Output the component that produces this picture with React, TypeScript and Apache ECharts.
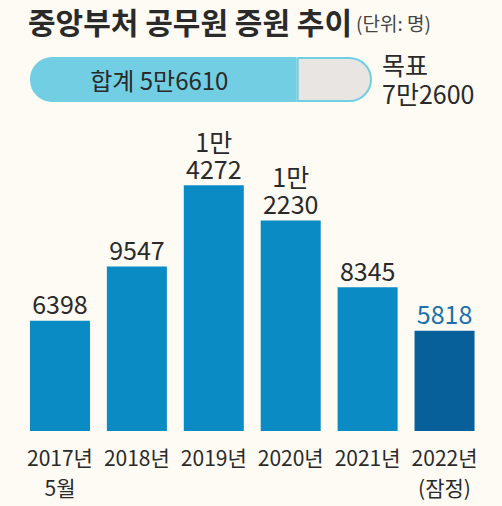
import React, { useEffect, useRef } from "react";
import * as echarts from "echarts";

const categories = ["2017년\n5월", "2018년", "2019년", "2020년", "2021년", "2022년\n(잠정)"];
const values = [6398, 9547, 14272, 12230, 8345, 5818];
const totalLabel = "합계";
const totalValue = 56610;
const targetLabel = "목표";
const targetValue = 72600;
const titleText = "중앙부처 공무원 증원 추이";
const unitText = "(단위: 명)";

const FONT = "'Noto Sans CJK KR', 'Noto Sans', sans-serif";
const BAR = "#0a8bc3";
const BAR_LAST = "#08609a";
const FILL = "#72cee2";
const REST = "#e8e5e2";
const TEXT = "#2a2a2a";

function fmt(v: number, sep: string): string {
  if (v < 10000) return String(v);
  return Math.floor(v / 10000) + "만" + sep + String(v % 10000);
}

export default function App() {
  const ref = useRef<HTMLDivElement>(null);
  useEffect(() => {
    if (!ref.current) return;
    const chart = echarts.init(ref.current, undefined, { renderer: "svg" });
    chart.setOption({
      animation: false,
      backgroundColor: "#fefbf5",
      textStyle: { fontFamily: FONT },
      title: {
        left: 23,
        top: 1,
        text: `{a|${titleText}} {b|${unitText}}`,
        textStyle: {
          rich: {
            a: { fontSize: 30, fontWeight: "bold", color: TEXT, fontFamily: FONT },
            b: { fontSize: 19, fontWeight: "normal", color: "#444", fontFamily: FONT, padding: [4, 0, 0, 0] },
          },
        },
      },
      grid: [
        { left: 21.5, right: 19, top: 155.5, bottom: 75 },
        { left: 30, right: 130, top: 57, height: 45 },
      ],
      xAxis: [
        {
          gridIndex: 0,
          type: "category",
          data: categories,
          axisLine: { show: false },
          axisTick: { show: false },
          axisLabel: {
            margin: 11,
            fontSize: 21,
            lineHeight: 30,
            color: TEXT,
            fontFamily: FONT,
            interval: 0,
          },
        },
        { gridIndex: 1, type: "value", min: 0, max: targetValue, show: false },
      ],
      yAxis: [
        { gridIndex: 0, type: "value", min: 0, max: 16000, show: false },
        { gridIndex: 1, type: "category", data: [""], show: false },
      ],
      series: [
        {
          type: "bar",
          xAxisIndex: 0,
          yAxisIndex: 0,
          barWidth: 60,
          data: values.map((v, i) => ({
            value: v,
            itemStyle: { color: i === values.length - 1 ? BAR_LAST : BAR },
            label: i === values.length - 1 ? { color: "#1a72ad" } : undefined,
          })),
          label: {
            show: true,
            position: "top",
            distance: 4,
            fontSize: 25,
            lineHeight: 27,
            color: TEXT,
            fontFamily: FONT,
            formatter: (p: any) => fmt(p.value, "\n"),
          },
        },
        {
          type: "bar",
          xAxisIndex: 1,
          yAxisIndex: 1,
          stack: "p",
          barWidth: 45,
          data: [totalValue],
          itemStyle: { color: FILL, borderRadius: [22, 0, 0, 22] },
          label: {
            show: true,
            position: "inside",
            fontSize: 24,
            color: TEXT,
            fontFamily: FONT,
            offset: [-4, 0],
            formatter: () => `${totalLabel} ${fmt(totalValue, "")}`,
          },
        },
        {
          type: "bar",
          xAxisIndex: 1,
          yAxisIndex: 1,
          stack: "p",
          barWidth: 45,
          data: [targetValue - totalValue],
          itemStyle: { color: REST, borderColor: FILL, borderWidth: 2, borderRadius: [0, 22, 22, 0] },
          label: {
            show: true,
            position: "right",
            distance: 10,
            fontSize: 25,
            lineHeight: 29,
            color: TEXT,
            fontFamily: FONT,
            offset: [0, -1],
            formatter: () => `${targetLabel}\n${fmt(targetValue, "")}`,
          },
        },
      ],
    });
    return () => chart.dispose();
  }, []);
  return (
    <div
      ref={ref}
      style={{ position: "absolute", left: 0, top: 0, width: 502, height: 506 }}
    />
  );
}
